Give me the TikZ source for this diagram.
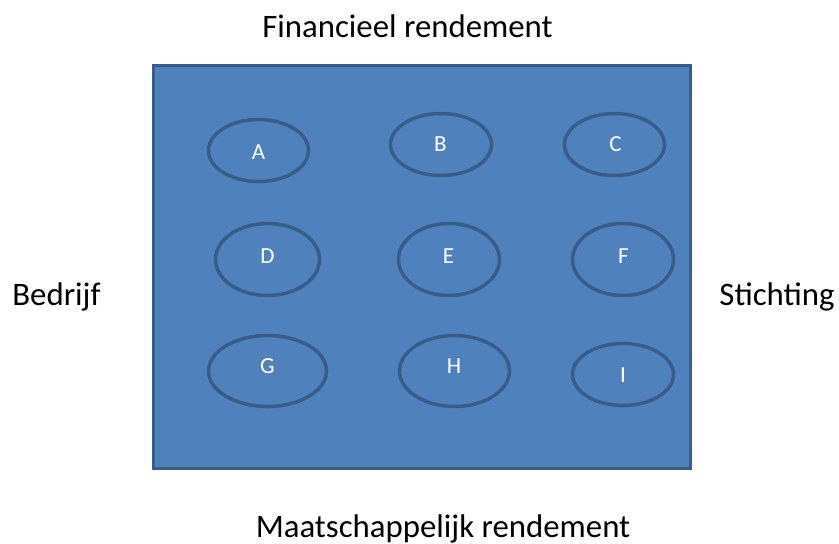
\documentclass[tikz,border=0pt]{standalone}
\usepackage{fontspec}
\setmainfont{Carlito}
\usetikzlibrary{shapes.geometric}
\definecolor{boxfill}{HTML}{4F81BD}
\definecolor{boxline}{HTML}{385D8A}
\tikzset{
  outer/.style={draw=boxline, fill=boxfill, line width=3pt},
  oval/.style={ellipse, draw=boxline, line width=3.5pt, inner sep=0pt},
  letter/.style={anchor=base, text=white, inner sep=0pt, font=\fontsize{23}{26}\selectfont},
  axislabel/.style={anchor=base, text=black, inner sep=0pt, font=\fontsize{32.8}{38}\selectfont},
}
\begin{document}
\begin{tikzpicture}[x=1pt, y=-1pt]
\useasboundingbox (0,0) rectangle (839,544);
\draw[outer] (153.5,65.5) rectangle (690.5,468.5);
\node[oval, minimum width=100pt, minimum height=62pt] (A) at (258.5,150.5) {};
\node[oval, minimum width=101pt, minimum height=62pt] (B) at (441,144.5) {};
\node[oval, minimum width=100pt, minimum height=62pt] (C) at (614.5,144.5) {};
\node[oval, minimum width=104pt, minimum height=72pt] (D) at (267.5,259.5) {};
\node[oval, minimum width=101pt, minimum height=72pt] (E) at (449,259.5) {};
\node[oval, minimum width=101pt, minimum height=72pt] (F) at (623,259.5) {};
\node[oval, minimum width=118pt, minimum height=71pt] (G) at (267.5,371) {};
\node[oval, minimum width=110pt, minimum height=71pt] (H) at (454.5,371) {};
\node[oval, minimum width=101pt, minimum height=62pt] (I) at (623,374.5) {};
\node[letter] (lA) at (258.5,159) {A};
\node[letter] (lB) at (440.5,151) {B};
\node[letter] (lC) at (615.5,151) {C};
\node[letter] (lD) at (267.5,263) {D};
\node[letter] (lE) at (448.5,263) {E};
\node[letter] (lF) at (623.5,263) {F};
\node[letter] (lG) at (267.5,373) {G};
\node[letter] (lH) at (454,373) {H};
\node[letter] (lI) at (623,382) {I};
\node[axislabel] (top) at (407.5,37) {Financieel rendement};
\node[axislabel] (bottom) at (443,537) {Maatschappelijk rendement};
\node[axislabel] (left) at (56.5,305) {Bedrijf};
\node[axislabel] (right) at (777,305) {Stichting};
\end{tikzpicture}
\end{document}
